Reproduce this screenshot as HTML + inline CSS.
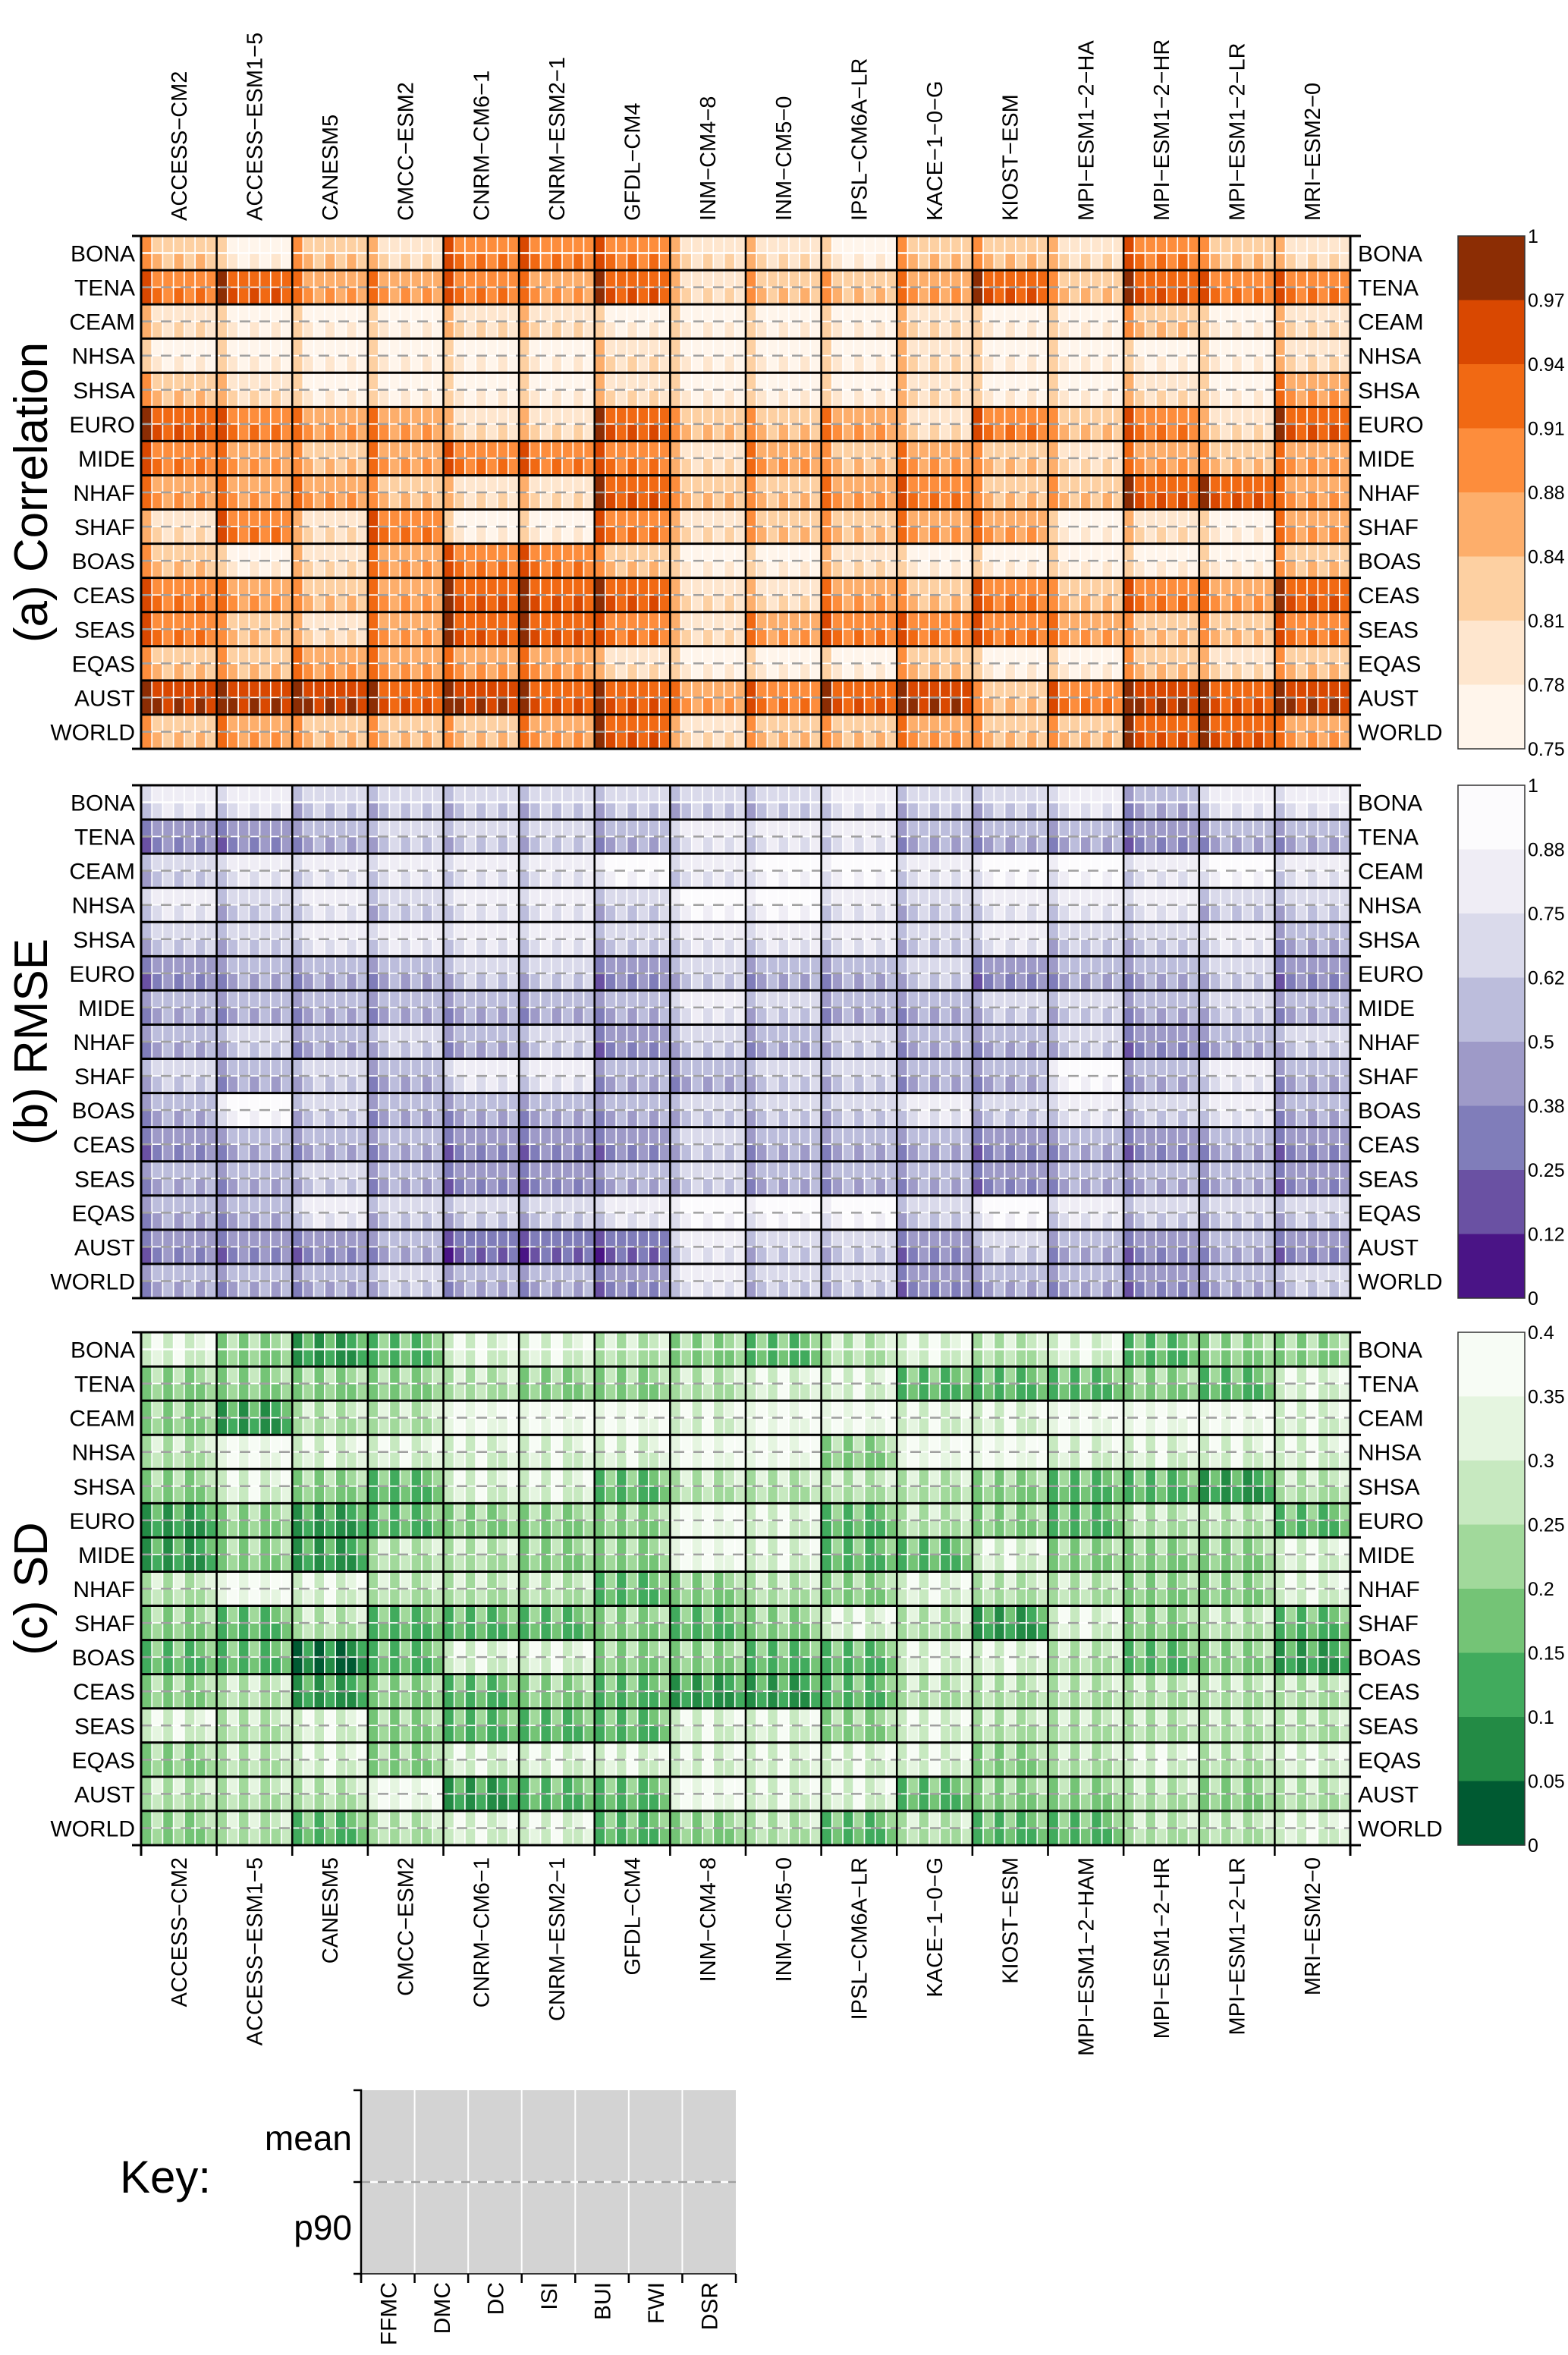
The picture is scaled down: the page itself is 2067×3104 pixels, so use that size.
<!DOCTYPE html>
<html><head><meta charset="utf-8"><style>
html,body{margin:0;padding:0;background:#fff;}
svg{display:block;font-family:"Liberation Sans",Arial,sans-serif;}
</style></head><body>
<svg id="fig" xmlns="http://www.w3.org/2000/svg" width="2067" height="3104" viewBox="0 0 2067 3104"></svg>
<script>
const regions = ["BONA","TENA","CEAM","NHSA","SHSA","EURO","MIDE","NHAF","SHAF","BOAS","CEAS","SEAS","EQAS","AUST","WORLD"];
const models = ["ACCESS\u2212CM2","ACCESS\u2212ESM1\u22125","CANESM5","CMCC\u2212ESM2","CNRM\u2212CM6\u22121","CNRM\u2212ESM2\u22121","GFDL\u2212CM4","INM\u2212CM4\u22128","INM\u2212CM5\u22120","IPSL\u2212CM6A\u2212LR","KACE\u22121\u22120\u2212G","KIOST\u2212ESM","MPI\u2212ESM1\u22122\u2212HAM","MPI\u2212ESM1\u22122\u2212HR","MPI\u2212ESM1\u22122\u2212LR","MRI\u2212ESM2\u22120"];
const topModels = ["ACCESS\u2212CM2","ACCESS\u2212ESM1\u22125","CANESM5","CMCC\u2212ESM2","CNRM\u2212CM6\u22121","CNRM\u2212ESM2\u22121","GFDL\u2212CM4","INM\u2212CM4\u22128","INM\u2212CM5\u22120","IPSL\u2212CM6A\u2212LR","KACE\u22121\u22120\u2212G","KIOST\u2212ESM","MPI\u2212ESM1\u22122\u2212HA","MPI\u2212ESM1\u22122\u2212HR","MPI\u2212ESM1\u22122\u2212LR","MRI\u2212ESM2\u22120"];
const indices = ["FFMC","DMC","DC","ISI","BUI","FWI","DSR"];
// block level (0 = lightest colour class) per region, one digit per model
const corrLevels = ["2021444110221421","4533435122352544","1000110000100201","0000001000100001","2100001000100103","5433115223142415","4323444132321323","3332115223422553","1414004122330103","2013442001000002","4323555113242435","4213554134443224","2233331000200212","6665655345624656","2322235122322553"];
const rmseLevels = ["1122222221221311","4432223111333433","2111110100100101","1212112001211122","2211112111212213","4333224233243324","3333333123322323","3232324232332432","2323113322330313","3023333222121213","4333444233343434","3323443233343334","3312221000201222","4443555122423434","3332334122433432"];
const sdLevels = ["1354112342121433","3333233211444341","3522000100110001","2011111003001111","3134114222234452","5354333014234224","5352233014413331","2012224323122331","3424443431251324","4464113344112435","3253434554222222","1213444113122222","3213111111132121","2220544011433232","3242114324244221"];
const corrIdxOff = [1.5,0.2,-0.3,0.2,0,0.3,-0.2];
const rmseIdxOff = [1.2,0.2,-0.3,0.3,-0.2,0.2,0];
const sdIdxOff = [0.8,-0.6,0.5,-0.8,0.6,0.3,-0.6];
const halfOff = [0,0.3];
const corrTicks = ["1","0.97","0.94","0.91","0.88","0.84","0.81","0.78","0.75"];
const rmseTicks = ["1","0.88","0.75","0.62","0.5","0.38","0.25","0.12","0"];
const sdTicks = ["0.4","0.35","0.3","0.25","0.2","0.15","0.1","0.05","0"];

const NS="http://www.w3.org/2000/svg";
const svg=document.getElementById('fig');
function mk(tag,attrs,parent){const e=document.createElementNS(NS,tag);for(const k in attrs)e.setAttribute(k,attrs[k]);(parent||svg).appendChild(e);return e;}
const NR=regions.length;
const L=186,R=1780,W=R-L,mw=W/16,cw=mw/7,PH=676,rh=PH/NR;
const tops=[311,1035,1756];
const oranges=["#FFF5EB","#FEE6CE","#FDD0A2","#FDAE6B","#FD8D3C","#F16913","#D94801","#8C2D04"];
const purples=["#FCFBFD","#EFEDF5","#DADAEB","#BCBDDC","#9E9AC8","#807DBA","#6A51A3","#4A1486"];
const greens=["#F7FCF5","#E5F5E0","#C7E9C0","#A1D99B","#74C476","#41AB5D","#238B45","#005A32"];
const panels=[
 {lv:corrLevels,off:corrIdxOff,pal:oranges,ticks:corrTicks,topDark:true,title:"(a) Correlation",name:"correlation"},
 {lv:rmseLevels,off:rmseIdxOff,pal:purples,ticks:rmseTicks,topDark:false,title:"(b) RMSE",name:"rmse"},
 {lv:sdLevels,off:sdIdxOff,pal:greens,ticks:sdTicks,topDark:false,title:"(c) SD",name:"sd"}];
const xScale=(m,k)=>L+m*mw+k*cw;
const yScale=(p,r,h)=>tops[p]+r*rh+h*rh/2;

panels.forEach((P,p)=>{
  const g=mk('g',{});
  
  
  const T=tops[p];
  for(let r=0;r<NR;r++){
    for(let m=0;m<16;m++){
      const base=+P.lv[r][m];
      for(let k=0;k<7;k++)for(let h=0;h<2;h++){
        let lv=Math.round(base+P.off[k]+halfOff[h]);
        lv=Math.max(0,Math.min(7,lv));
        const c=mk('rect',{x:xScale(m,k),y:yScale(p,r,h),width:cw,height:rh/2,fill:P.pal[lv],stroke:'#fff','stroke-width':1.6},g);
        
        
      }
    }
    const my=T+r*rh+rh/2;
    const d=mk('line',{x1:L,x2:R,y1:my,y2:my,stroke:r==0?'#fff':'#a0a0a0','stroke-width':2.5,'stroke-dasharray':r==0?'':'14 12'},g);
    
    
  }
  for(let r=0;r<=NR;r++){
    const y=T+r*rh;
    const ln=mk('line',{x1:(r==0||r==NR)?L-12:L,x2:R+14,y1:y,y2:y,stroke:'#000','stroke-width':3},g);
    
    
  }
  for(let m=0;m<=16;m++){
    const x=L+m*mw;
    const ln=mk('line',{x1:x,x2:x,y1:T,y2:T+PH+(p==2?14:0),stroke:'#000','stroke-width':(m==0||m==16)?3:2.6},g);
    
    
  }
  regions.forEach((rn,r)=>{
    const cy=T+r*rh+rh/2+11;
    const a=mk('text',{x:178,y:cy,'text-anchor':'end','font-size':30},g);a.textContent=rn;
    
    
    const b=mk('text',{x:1790,y:cy,'font-size':30},g);b.textContent=rn;
    
    
  });
  const cx=62,cy=T+PH/2;
  const t=mk('text',{x:cx,y:cy,'text-anchor':'middle','font-size':62,transform:`rotate(-90 ${cx} ${cy})`},g);
  t.textContent=P.title;
  
  
  const cb=mk('g',{});
  
  
  const bh=PH/8;
  for(let i=0;i<8;i++){
    const col=P.topDark?P.pal[7-i]:P.pal[i];
    const s=mk('rect',{x:1922,y:T+i*bh,width:88,height:bh+0.5,fill:col},cb);
    
    
  }
  const o=mk('rect',{x:1922,y:T,width:88,height:PH,fill:'none',stroke:'#333','stroke-width':1.5},cb);
  
  
  P.ticks.forEach((tk,i)=>{
    const tt=mk('text',{x:2014,y:T+i*bh+9,'font-size':25},cb);tt.textContent=tk;
    
    
  });
});
models.forEach((mn,m)=>{
  const x=L+(m+0.5)*mw+10;
  const a=mk('text',{x:x,y:291,'font-size':29,transform:`rotate(-90 ${x} 291)`});a.textContent=topModels[m];
  
  
  const b=mk('text',{x:x,y:2448,'font-size':29,'text-anchor':'end',transform:`rotate(-90 ${x} 2448)`});b.textContent=mn;
  
  
});
const kg=mk('g',{});


const KL=476,KR=970,KT=2755,KB=2997,KM=(KT+KB)/2,kw=(KR-KL)/7;
const kb=mk('rect',{x:KL,y:KT,width:KR-KL,height:KB-KT,fill:'#d3d3d3'},kg);


for(let k=1;k<7;k++){const l=mk('line',{x1:KL+k*kw,x2:KL+k*kw,y1:KT,y2:KB,stroke:'#fff','stroke-width':2},kg);
  
  }
const km=mk('line',{x1:KL,x2:KR,y1:KM,y2:KM,stroke:'#fff','stroke-width':2.5},kg);


const kd=mk('line',{x1:KL,x2:KR,y1:KM,y2:KM,stroke:'#a0a0a0','stroke-width':2.5,'stroke-dasharray':'12 10'},kg);


const ka=mk('path',{d:`M${KL-10} ${KT}H${KL}V${KB}H${KL-10}M${KL-10} ${KM}H${KL}M${KL} ${KB}V${KB+12}`,stroke:'#000','stroke-width':2.5,fill:'none'},kg);


for(let k=0;k<=7;k++){const t=mk('line',{x1:KL+k*kw,x2:KL+k*kw,y1:KB,y2:KB+12,stroke:'#000','stroke-width':2.5},kg);
  
  }
const kx=mk('line',{x1:KL,x2:KR,y1:KB,y2:KB,stroke:'#000','stroke-width':1.5},kg);


indices.forEach((ix,k)=>{
  const x=KL+(k+0.5)*kw+11;
  const t=mk('text',{x:x,y:3008,'font-size':30,'text-anchor':'end',transform:`rotate(-90 ${x} 3008)`},kg);t.textContent=ix;
  
  
});
const tm=mk('text',{x:464,y:2834,'font-size':46,'text-anchor':'end'},kg);tm.textContent='mean';


const tp=mk('text',{x:464,y:2952,'font-size':46,'text-anchor':'end'},kg);tp.textContent='p90';


const tk=mk('text',{x:158,y:2890,'font-size':60},kg);tk.textContent='Key:';


</script>
</body></html>
